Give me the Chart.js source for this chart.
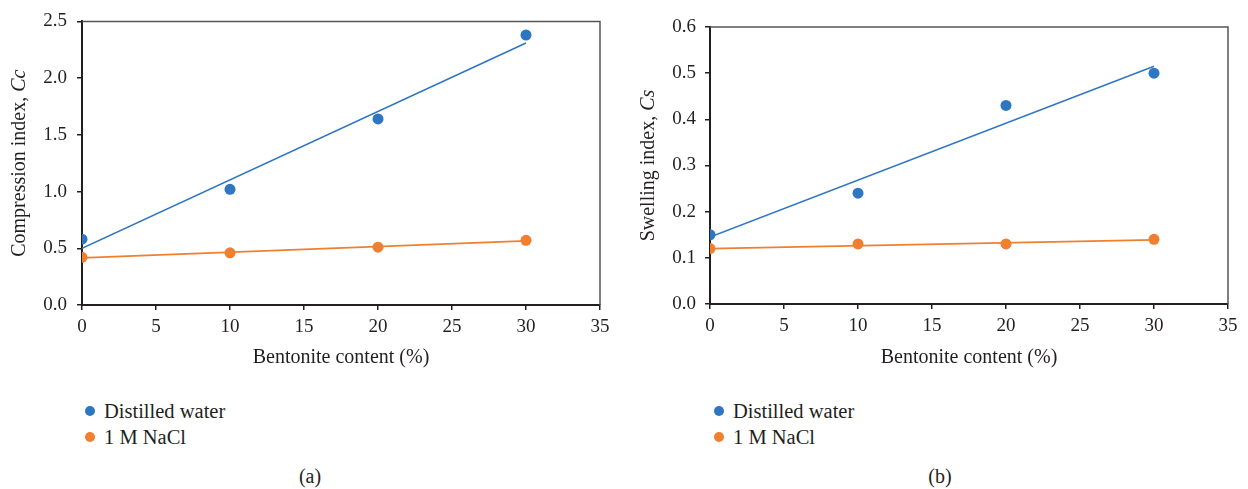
<!DOCTYPE html>
<html>
<head>
<meta charset="utf-8">
<script src="https://cdn.jsdelivr.net/npm/chart.js@4.4.1/dist/chart.umd.min.js"></script>
<style>
    body { margin: 0; background: #fff; }
    #page { position: relative; width: 1248px; height: 489px; font-family: "Liberation Serif", "DejaVu Serif", serif; color: #231f20; }
    .panel { position: absolute; top: 0; }
    .legend-item { position: absolute; font-size: 20.5px; line-height: 22px; white-space: nowrap; }
    .legend-item .dot { position: absolute; width: 10px; height: 10px; border-radius: 50%; left: -19px; top: 6px; }
    .caption { position: absolute; font-size: 20px; top: 465px; transform: translateX(-50%); }
</style>
</head>
<body>
<div id="page">
    <div class="panel" style="left:0;"><canvas id="chartA" width="620" height="370"></canvas></div>
    <div class="panel" style="left:620px;"><canvas id="chartB" width="628" height="370"></canvas></div>

    <div class="legend-item" style="left:104px; top:400px;"><span class="dot" style="background:#2e75c2;"></span>Distilled water</div>
    <div class="legend-item" style="left:104px; top:426px;"><span class="dot" style="background:#f07f2f;"></span>1 M NaCl</div>
    <div class="caption" style="left:310px;">(a)</div>

    <div class="legend-item" style="left:733px; top:400px;"><span class="dot" style="background:#2e75c2;"></span>Distilled water</div>
    <div class="legend-item" style="left:733px; top:426px;"><span class="dot" style="background:#f07f2f;"></span>1 M NaCl</div>
    <div class="caption" style="left:940px;">(b)</div>
</div>

<script>
// Data
const bentonite = [0, 10, 20, 30];
const ccDistilled = [0.58, 1.02, 1.64, 2.38];
const ccNaCl = [0.42, 0.46, 0.51, 0.57];
const csDistilled = [0.15, 0.24, 0.43, 0.50];
const csNaCl = [0.12, 0.13, 0.13, 0.14];

// Trend line end points
const trendX = [0, 30];
const ccDistilledTrend = [0.50, 2.31];
const ccNaClTrend = [0.415, 0.565];
const csDistilledTrend = [0.145, 0.515];
const csNaClTrend = [0.12, 0.139];

const xTicks = [0, 5, 10, 15, 20, 25, 30, 35];
const ccTicks = [0, 0.5, 1.0, 1.5, 2.0, 2.5];
const csTicks = [0, 0.1, 0.2, 0.3, 0.4, 0.5, 0.6];

const blue = '#2e75c2';
const orange = '#f07f2f';
const ink = '#231f20';
const fontFamily = '"Liberation Serif", "DejaVu Serif", serif';

Chart.defaults.font.family = fontFamily;
Chart.defaults.color = ink;

function toPoints(xs, ys) {
    return xs.map((x, i) => ({ x: x, y: ys[i] }));
}

// Grey frame on top and right of the plot area
const framePlugin = {
    id: 'frame',
    afterDraw(chart) {
        const { ctx, chartArea } = chart;
        ctx.save();
        ctx.strokeStyle = '#555';
        ctx.lineWidth = 1.5;
        ctx.beginPath();
        ctx.moveTo(chartArea.left, chartArea.top);
        ctx.lineTo(chartArea.right, chartArea.top);
        ctx.lineTo(chartArea.right, chartArea.bottom);
        ctx.stroke();
        ctx.restore();
    }
};

// Y title with an italic symbol part
const yTitlePlugin = {
    id: 'yTitle',
    afterDraw(chart, args, opts) {
        const { ctx, chartArea } = chart;
        const plainFont = '20px ' + fontFamily;
        const italicFont = 'italic 20px ' + fontFamily;
        ctx.save();
        ctx.font = plainFont;
        const w1 = ctx.measureText(opts.text).width;
        ctx.font = italicFont;
        const w2 = ctx.measureText(opts.symbol).width;
        const cy = (chartArea.top + chartArea.bottom) / 2;
        ctx.translate(opts.x, cy);
        ctx.rotate(-Math.PI / 2);
        ctx.fillStyle = ink;
        ctx.textBaseline = 'middle';
        ctx.textAlign = 'left';
        const start = -(w1 + w2) / 2;
        ctx.font = plainFont;
        ctx.fillText(opts.text, start, 0);
        ctx.font = italicFont;
        ctx.fillText(opts.symbol, start + w1, 0);
        ctx.restore();
    }
};

function makeChart(id, cfg) {
    const ctx = document.getElementById(id).getContext('2d');
    return new Chart(ctx, {
        type: 'scatter',
        data: {
            datasets: [
                {
                    label: 'Distilled water',
                    data: toPoints(bentonite, cfg.distilled),
                    backgroundColor: blue,
                    borderColor: blue,
                    pointRadius: 5.5,
                    pointBorderWidth: 0
                },
                {
                    label: '1 M NaCl',
                    data: toPoints(bentonite, cfg.nacl),
                    backgroundColor: orange,
                    borderColor: orange,
                    pointRadius: 5.5,
                    pointBorderWidth: 0
                },
                {
                    label: 'Distilled water trend',
                    data: toPoints(trendX, cfg.distilledTrend),
                    showLine: true,
                    borderColor: blue,
                    borderWidth: 1.5,
                    pointRadius: 0
                },
                {
                    label: '1 M NaCl trend',
                    data: toPoints(trendX, cfg.naclTrend),
                    showLine: true,
                    borderColor: orange,
                    borderWidth: 1.8,
                    pointRadius: 0
                }
            ]
        },
        options: {
            responsive: false,
            animation: false,
            devicePixelRatio: 1,
            layout: {
                padding: { left: 0, right: 20, top: cfg.top, bottom: 0 }
            },
            scales: {
                x: {
                    type: 'linear',
                    min: 0,
                    max: 35,
                    afterBuildTicks: (scale) => { scale.ticks = xTicks.map(v => ({ value: v })); },
                    afterFit: (scale) => { scale.height = 370 - cfg.bottom; },
                    border: { color: ink, width: 2 },
                    grid: { drawOnChartArea: false, drawTicks: true, tickLength: 5, color: ink, lineWidth: 1.5 },
                    ticks: { padding: 6, maxRotation: 0, font: { size: 19 }, color: ink },
                    title: {
                        display: true,
                        text: 'Bentonite content (%)',
                        font: { size: 20 },
                        color: ink,
                        padding: { top: 0, bottom: 0 }
                    }
                },
                y: {
                    type: 'linear',
                    min: cfg.yTicks[0],
                    max: cfg.yTicks[cfg.yTicks.length - 1],
                    afterBuildTicks: (scale) => { scale.ticks = cfg.yTicks.map(v => ({ value: v })); },
                    afterFit: (scale) => { scale.width = cfg.left; },
                    border: { color: ink, width: 2 },
                    grid: { drawOnChartArea: false, drawTicks: true, tickLength: 5, color: ink, lineWidth: 1.5 },
                    ticks: {
                        padding: cfg.tickPad,
                        font: { size: 19 },
                        color: ink,
                        callback: (v) => Number(v).toFixed(1)
                    }
                }
            },
            plugins: {
                legend: { display: false },
                tooltip: { enabled: false },
                yTitle: { text: cfg.yText, symbol: cfg.ySymbol, x: cfg.titleX }
            }
        },
        plugins: [framePlugin, yTitlePlugin]
    });
}

makeChart('chartA', {
    distilled: ccDistilled,
    nacl: ccNaCl,
    distilledTrend: ccDistilledTrend,
    naclTrend: ccNaClTrend,
    yTicks: ccTicks,
    yText: 'Compression index, ',
    ySymbol: 'Cc',
    titleX: 20,
    left: 82,
    top: 17,
    bottom: 305,
    tickPad: 10
});

makeChart('chartB', {
    distilled: csDistilled,
    nacl: csNaCl,
    distilledTrend: csDistilledTrend,
    naclTrend: csNaClTrend,
    yTicks: csTicks,
    yText: 'Swelling index, ',
    ySymbol: 'Cs',
    titleX: 29,
    left: 90,
    top: 27,
    bottom: 304,
    tickPad: 9
});
</script>
</body>
</html>
